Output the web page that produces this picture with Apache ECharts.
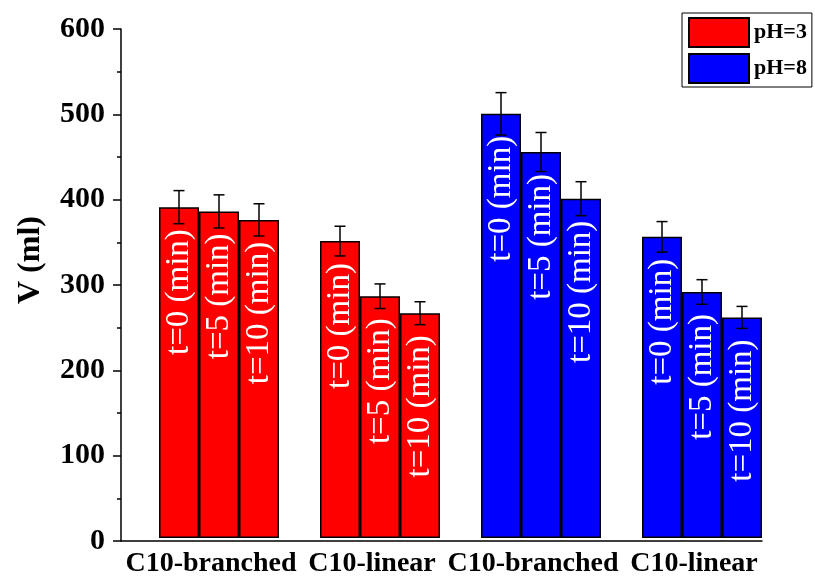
<!DOCTYPE html>
<html>
<head>
<meta charset="utf-8">
<script src="https://cdn.jsdelivr.net/npm/echarts@6/dist/echarts.min.js"></script>
<style>html,body{margin:0;padding:0;background:#fff;}#c{width:815px;height:578px;}</style>
</head>
<body>
<div id="c"></div>
<script>
// ---- data ----
var categories = ['C10-branched', 'C10-linear', 'C10-branched', 'C10-linear'];
var groupPH = ['pH=3', 'pH=3', 'pH=8', 'pH=8'];
var timeLabels = ['t=0 (min)', 't=5 (min)', 't=10 (min)'];
var values_t0 = [390, 350, 500, 355];
var values_t5 = [385, 285, 455, 290];
var values_t10 = [375, 265, 400, 260];
var err_t0 = [19.5, 17.5, 25, 18];
var err_t5 = [19.5, 14.5, 23, 14.5];
var err_t10 = [19, 13.5, 20, 13];
var yTicks = [0, 100, 200, 300, 400, 500, 600];
var legendNames = ['pH=3', 'pH=8'];

var RED = '#ff0000', BLUE = '#0000ff';
var colorOf = { 'pH=3': RED, 'pH=8': BLUE };
var serif = '"Liberation Serif", "Times New Roman", serif';

var allValues = [values_t0, values_t5, values_t10];
var allErr = [err_t0, err_t5, err_t10];
var BAR_W = 40;

var series = [];
allValues.forEach(function (vals, k) {
  series.push({
    type: 'bar', name: timeLabels[k], xAxisIndex: 0, yAxisIndex: 0,
    barWidth: BAR_W, barGap: '0%',
    data: vals,
    itemStyle: {
      color: function (p) { return colorOf[groupPH[p.dataIndex]]; },
      borderColor: '#000', borderWidth: 1.5
    },
    label: {
      show: true, position: 'insideTop', distance: 22, rotate: 90,
      align: 'right', verticalAlign: 'middle',
      formatter: timeLabels[k],
      color: '#fff', fontSize: 33, fontFamily: serif, fontWeight: 'normal'
    },
    z: 2
  });
});

// error bars
var errData = [];
allValues.forEach(function (vals, k) {
  vals.forEach(function (v, i) { errData.push([i, v, allErr[k][i], k]); });
});
series.push({
  type: 'custom', xAxisIndex: 0, yAxisIndex: 0, z: 5, silent: true,
  encode: { x: 0, y: 1 },
  data: errData,
  renderItem: function (params, api) {
    var i = api.value(0), v = api.value(1), e = api.value(2), k = api.value(3);
    var c = api.coord([i, v]);
    var x = c[0] + (k - 1) * BAR_W;
    var yHi = api.coord([i, v + e])[1];
    var yLo = api.coord([i, v - e])[1];
    var hw = 5.5;
    var st = { stroke: '#000', lineWidth: 1.5 };
    return { type: 'group', children: [
      { type: 'line', shape: { x1: x, y1: yHi, x2: x, y2: yLo }, style: st },
      { type: 'line', shape: { x1: x - hw, y1: yHi, x2: x + hw, y2: yHi }, style: st },
      { type: 'line', shape: { x1: x - hw, y1: yLo, x2: x + hw, y2: yLo }, style: st }
    ]};
  }
});

// legend entries (empty series on the frame grid)
legendNames.forEach(function (n) {
  series.push({
    type: 'bar', name: n, xAxisIndex: 1, yAxisIndex: 1, data: [],
    itemStyle: { color: colorOf[n], borderColor: '#000', borderWidth: 1.5 }
  });
});

var option = {
  animation: false,
  backgroundColor: '#fff',
  grid: [
    { left: 138.5, width: 644, top: 29, bottom: 37 },
    { left: 121, width: 641, top: 29, bottom: 37 }
  ],
  xAxis: [
    {
      type: 'category', gridIndex: 0,
      data: categories.map(function (c, i) { return String(i); }),
      axisLine: { show: false }, axisTick: { show: false },
      axisLabel: {
        interval: 0, margin: 12, color: '#000', fontSize: 28, fontWeight: 'bold', fontFamily: serif,
        padding: [0, 16, 0, 0],
        formatter: function (v, i) { return categories[i]; }
      },
      splitLine: { show: false }
    },
    {
      type: 'category', gridIndex: 1, data: categories.map(function (c, i) { return 'f' + i; }),
      axisLine: { show: true, onZero: false, lineStyle: { color: '#000', width: 1.5 } },
      axisTick: { show: false }, axisLabel: { show: false }, splitLine: { show: false }
    }
  ],
  yAxis: [
    { type: 'value', gridIndex: 0, min: yTicks[0], max: yTicks[yTicks.length - 1], interval: 100, show: false },
    {
      type: 'value', gridIndex: 1, min: yTicks[0], max: yTicks[yTicks.length - 1], interval: 100,
      name: 'V (ml)', nameLocation: 'middle', nameGap: 74, nameRotate: 90,
      nameTextStyle: { color: '#000', fontSize: 32, fontWeight: 'bold', fontFamily: serif, padding: [0, 0, 0, 50] },
      axisLine: { show: true, lineStyle: { color: '#000', width: 1.5 } },
      axisTick: { show: true, inside: false, length: 8, lineStyle: { color: '#000', width: 1.5 } },
      minorTick: { show: true, splitNumber: 2, length: 4, lineStyle: { color: '#000', width: 1.5 } },
      axisLabel: { margin: 16, color: '#000', fontSize: 30, fontWeight: 'bold', fontFamily: serif },
      splitLine: { show: false }, minorSplitLine: { show: false }
    }
  ],
  legend: {
    data: legendNames, orient: 'vertical', left: 682, top: 13,
    itemWidth: 60, itemHeight: 29, itemGap: 5, icon: 'rect',
    padding: [4, 5, 3, 6], borderColor: '#000', borderWidth: 1, backgroundColor: '#fff',
    textStyle: { color: '#000', fontSize: 22, fontWeight: 'bold', fontFamily: serif },
    selectedMode: false
  },
  series: series
};

var chart = echarts.init(document.getElementById('c'), null, { renderer: 'canvas' });
chart.setOption(option);
</script>
</body>
</html>
